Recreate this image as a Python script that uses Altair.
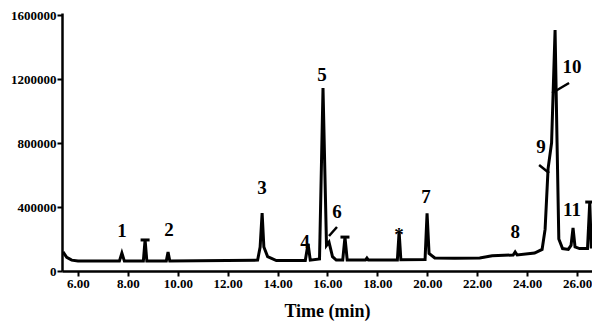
import altair as alt
import pandas as pd

# chromatogram trace (retention time in min, abundance)
times = [5.40, 5.55, 5.75, 6.00, 7.66, 7.76, 7.86, 8.62, 8.69, 8.76, 9.54, 9.61, 9.68,
         13.20, 13.30, 13.38, 13.45, 13.60, 13.95, 15.11, 15.22, 15.31, 15.68, 15.82,
         15.96, 16.06, 16.20, 16.35, 16.61, 16.70, 16.79, 17.52, 17.58, 17.64, 18.80,
         18.87, 18.94, 19.91, 19.99, 20.07, 20.30, 21.10, 22.10, 22.60, 23.44, 23.52,
         23.60, 24.30, 24.60, 24.72, 24.84, 24.98, 25.12, 25.20, 25.27, 25.42, 25.65,
         25.76, 25.84, 25.92, 26.10, 26.42, 26.51, 26.57, 26.62]
abundance = [119000, 85000, 68000, 62000, 62000, 112000, 62000, 62000, 194000, 62000,
             62000, 119000, 62000, 68000, 150000, 362000, 150000, 90000, 65000, 65000,
             170000, 68000, 75000, 1144000, 160000, 180000, 90000, 68000, 68000, 212000,
             68000, 68000, 81000, 68000, 68000, 244000, 70000, 72000, 360000, 110000,
             81000, 80000, 82000, 95000, 100000, 119000, 100000, 112000, 135000, 260000,
             640000, 800000, 1506000, 800000, 200000, 140000, 135000, 160000, 269000,
             150000, 140000, 140000, 431000, 150000, 150000]

# flat caps seen on top of some narrow peaks
cap_time = [8.69, 16.70, 26.51]
cap_abund = [194000, 212000, 431000]

# peak labels
label_text = ["1", "2", "3", "4", "5", "6", "7", "8", "9", "10", "11", "*"]
label_time = [7.76, 9.65, 13.38, 15.10, 15.78, 16.38, 19.95, 23.52, 24.56, 25.80, 25.80, 18.87]
label_abund = [250000, 256000, 519000, 181000, 1225000, 369000, 462500, 244000, 775000,
               1275000, 381000, 225000]

# pointer strokes from labels to peaks
arrow_t1 = [16.38, 24.48, 25.00]
arrow_v1 = [275000, 662500, 1112500]
arrow_t2 = [16.06, 24.88, 25.68]
arrow_v2 = [218750, 612500, 1175000]

x_ticks = [6, 8, 10, 12, 14, 16, 18, 20, 22, 24, 26]
y_ticks = [0, 200000, 400000, 600000, 800000, 1000000, 1200000, 1400000, 1600000]

trace = pd.DataFrame({"t": times, "v": abundance})
caps = pd.DataFrame({"t": cap_time, "v": cap_abund})
labels = pd.DataFrame({"t": label_time, "v": label_abund, "txt": label_text})
arrows = pd.DataFrame({"t": arrow_t1, "v": arrow_v1, "t2": arrow_t2, "v2": arrow_v2})

xs = alt.Scale(domain=[5.36, 26.60], nice=False, zero=False)
ys = alt.Scale(domain=[0, 1612500], nice=False)

SERIF = "Liberation Serif"

xaxis = alt.Axis(values=x_ticks, format=".2f", title="Time (min)", grid=False,
                 titleFont=SERIF, titleFontSize=18, titleFontWeight="bold",
                 titlePadding=12)
yaxis = alt.Axis(values=y_ticks, format="d", title=None, grid=False)

line = alt.Chart(trace).mark_line(color="black", strokeWidth=3, clip=True).encode(
    x=alt.X("t:Q", scale=xs, axis=xaxis),
    y=alt.Y("v:Q", scale=ys, axis=yaxis),
)

cap = alt.Chart(caps).mark_tick(color="black", opacity=1, thickness=3, size=9,
                                orient="horizontal").encode(
    x=alt.X("t:Q", scale=xs), y=alt.Y("v:Q", scale=ys)
)

text = alt.Chart(labels).mark_text(
    font=SERIF, fontSize=19, fontWeight="bold", color="black", baseline="middle"
).encode(x=alt.X("t:Q", scale=xs), y=alt.Y("v:Q", scale=ys), text="txt:N")

rules = alt.Chart(arrows).mark_rule(color="black", strokeWidth=2.5).encode(
    x=alt.X("t:Q", scale=xs), y=alt.Y("v:Q", scale=ys),
    x2="t2:Q", y2="v2:Q",
)

chart = alt.layer(line, cap, rules, text).properties(
    width=530, height=258,
    autosize=alt.AutoSizeParams(type="none"),
    padding={"left": 54, "top": 5, "right": 0, "bottom": 54},
).configure_view(stroke=None).configure_axis(
    domainColor="black", domainWidth=2.5, tickColor="black", tickWidth=2, tickSize=5,
    labelFont=SERIF, labelFontWeight="bold", labelFontSize=13,
    labelColor="black", labelPadding=1, titleColor="black",
)

chart.save("out.html", embed_options={"renderer": "svg", "actions": False})
